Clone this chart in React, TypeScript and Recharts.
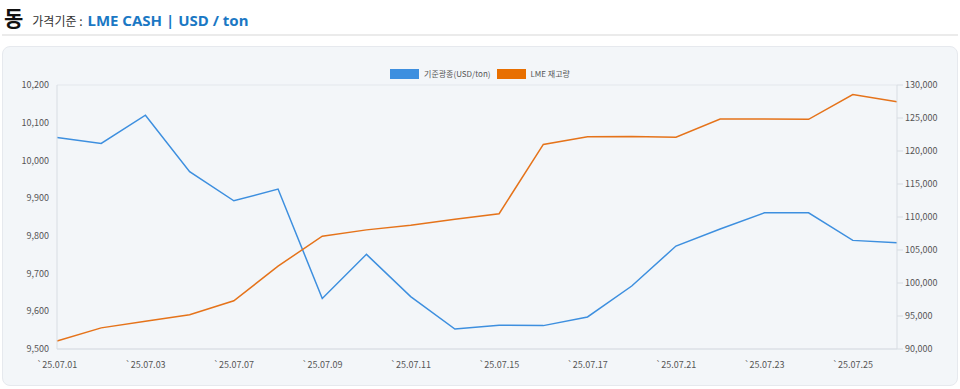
import React from 'react';
import { LineChart, Line, XAxis, YAxis, CartesianGrid, Legend } from 'recharts';

const dates = [
  '25.07.01', '25.07.02', '25.07.03', '25.07.04', '25.07.07',
  '25.07.08', '25.07.09', '25.07.10', '25.07.11', '25.07.14',
  '25.07.15', '25.07.16', '25.07.17', '25.07.18', '25.07.21',
  '25.07.22', '25.07.23', '25.07.24', '25.07.25', '25.07.28',
];

const cashPrice = [
  10061, 10045, 10120, 9970, 9893, 9924, 9634, 9751, 9639, 9553,
  9563, 9562, 9585, 9667, 9773, 9818, 9861, 9861, 9788, 9782,
];

const stock = [
  91200, 93200, 94200, 95200, 97300, 102550, 107100, 108050, 108750, 109650,
  110500, 121000, 122150, 122200, 122100, 124850, 124850, 124800, 128550, 127450,
];

const leftTicks = [9500, 9600, 9700, 9800, 9900, 10000, 10100, 10200];
const rightTicks = [90000, 95000, 100000, 105000, 110000, 115000, 120000, 125000, 130000];

const BLUE = '#3d8fdf';
const ORANGE = '#e5731a';
const FONT = '"Noto Sans CJK KR", "Noto Sans", sans-serif';

const data = dates.map((d, i) => ({ date: d, price: cashPrice[i], stock: stock[i] }));

const fmt = (v: number) => v.toLocaleString('en-US');

const LegendBox = () => (
  <div style={{ height: 23, display: 'flex', justifyContent: 'center', alignItems: 'center', fontSize: 8, color: '#555', fontFamily: FONT }}>
    <span style={{ display: 'inline-block', width: 29, height: 10, background: BLUE, marginRight: 5 }} />
    <span style={{ marginRight: 6 }}>기준광종(USD/ton)</span>
    <span style={{ display: 'inline-block', width: 29, height: 10, background: '#e86f00', marginRight: 5 }} />
    <span>LME 재고량</span>
  </div>
);

export default function App() {
  return (
    <div style={{ position: 'absolute', left: 0, top: 0, width: 960, height: 389, background: '#fff', fontFamily: FONT, overflow: 'hidden' }}>
      <div style={{ position: 'absolute', left: 4, top: 2, display: 'flex', alignItems: 'baseline' }}>
        <span style={{ fontSize: 21, fontWeight: 700, color: '#111' }}>동</span>
        <span style={{ fontSize: 12, color: '#333', marginLeft: 9 }}>가격기준 :</span>
        <span style={{ fontSize: 15, fontWeight: 700, color: '#1b78c4', marginLeft: 5, fontFamily: '"Noto Sans", sans-serif' }}>LME CASH | USD / ton</span>
      </div>
      <div style={{ position: 'absolute', left: 2, top: 34, width: 956, height: 2, background: '#ebebeb' }} />
      <div style={{ position: 'absolute', left: 2, top: 46, width: 954, height: 338, background: '#f3f6f9', border: '1px solid #e6e9ee', borderRadius: 8 }} />
      <div style={{ position: 'absolute', left: 0, top: 0 }}>
        <LineChart width={960} height={389} data={data} margin={{ top: 62, right: 0, bottom: 0, left: 0 }}>
          <CartesianGrid vertical={false} stroke="#e3e7ec" />
          <Legend verticalAlign="top" align="center" content={() => <LegendBox />} />
          <XAxis
            dataKey="date"
            interval={1}
            height={40}
            tickLine={false}
            tickMargin={7}
            axisLine={{ stroke: '#d8dde3' }}
            tick={{ fontSize: 9, fill: '#555', fontFamily: FONT }}
            tickFormatter={(v: string) => '`' + v}
          />
          <YAxis
            yAxisId="left"
            width={57}
            domain={[9500, 10200]}
            ticks={leftTicks}
            tickLine={false}
            axisLine={{ stroke: '#d8dde3' }}
            tick={{ fontSize: 9, fill: '#555', fontFamily: FONT }}
            tickFormatter={fmt}
          />
          <YAxis
            yAxisId="right"
            orientation="right"
            width={63}
            domain={[90000, 130000]}
            ticks={rightTicks}
            tickLine={{ stroke: '#d8dde3' }}
            axisLine={{ stroke: '#d8dde3' }}
            tick={{ fontSize: 9, fill: '#555', fontFamily: FONT, textAnchor: 'start' }}
            tickFormatter={fmt}
          />
          <Line yAxisId="left" dataKey="price" stroke={BLUE} strokeWidth={1.5} dot={false} isAnimationActive={false} name="기준광종(USD/ton)" />
          <Line yAxisId="right" dataKey="stock" stroke={ORANGE} strokeWidth={1.5} dot={false} isAnimationActive={false} name="LME 재고량" />
        </LineChart>
      </div>
    </div>
  );
}
